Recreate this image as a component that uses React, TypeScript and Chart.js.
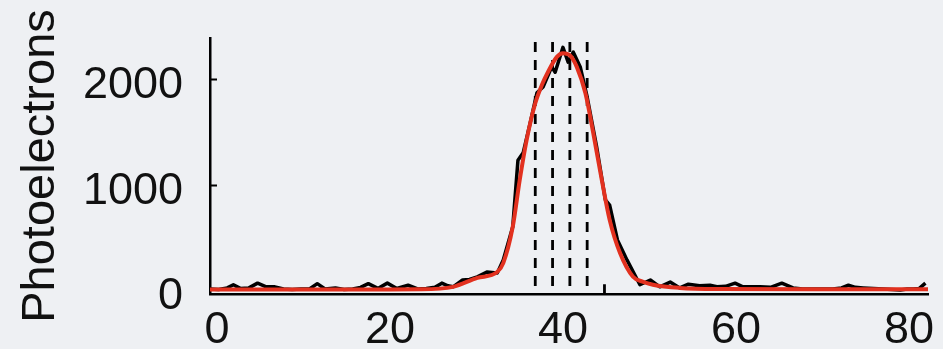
import React, { useEffect, useRef } from "react";
import { Chart, registerables } from "chart.js";

Chart.register(...registerables);

// Measured trace: position vs photoelectron count
const traceX = [
  0, 1, 2, 2.7, 3.5, 4.5, 5.5, 6.5, 7.5, 8.5, 9.5, 10.5, 11.5, 12.4, 13.3, 14.5, 15.5, 16.5,
  17.4, 18.3, 19.4, 20.5, 21.6, 22.9, 24, 25, 26, 26.8, 27.5, 28.1, 29.2, 30, 30.9, 32, 33.2,
  33.9, 35, 35.6, 36.2, 37, 37.8, 38.5, 39.5, 39.9, 40.8, 41.4, 42, 42.8, 43.6, 44.7, 45.7,
  46.2, 47.1, 48.2, 49.7, 50.9, 52, 53.2, 54.3, 55.3, 56.6, 57.8, 58.6, 59.6, 60.7, 61.6,
  62.6, 63.6, 64.8, 66.1, 67.4, 68.5, 70, 72, 73, 73.8, 74.6, 75.5, 76.7, 77.8, 78.8, 79.8,
  80.6, 81.3, 82, 82.7,
];
const traceCounts = [
  10, 5, 20, 50, 15, 20, 65, 30, 30, 10, 5, 10, 10, 60, 10, 20, 5, 10,
  25, 60, 15, 65, 15, 45, 10, 15, 25, 65, 40, 30, 95, 100, 125, 170, 160,
  285, 600, 1230, 1300, 1580, 1870, 1925, 2115, 2065, 2300, 2160, 2255, 2115, 1830, 1355, 855,
  805, 475, 285, 50, 95, 30, 75, 20, 55, 40, 45, 30, 35, 65, 30,
  30, 30, 25, 65, 20, 10, 10, 10, 20, 45, 25, 20, 15, 10, 5, 0,
  10, 10, 15, 65,
];

// Fitted profile
const fitX = [
  0, 10, 20, 24.3, 28.1, 30.9, 33.2, 33.9, 35, 35.8, 36.6, 37.6, 38.4, 39, 40.1, 40.8, 41.6,
  42.4, 43.4, 44.3, 45.3, 46.2, 47.4, 48.9, 50, 51.2, 54.3, 59, 70, 83,
];
const fitCounts = [
  5, 5, 5, 6, 30, 115, 170, 255, 600, 1040, 1420, 1770, 1950, 2055, 2210, 2245, 2225,
  2115, 1865, 1490, 1040, 665, 350, 125, 80, 50, 20, 10, 8, 8,
];

// Vertical dashed markers and the short marker stub
const markerX = [37.6, 39.6, 41.6, 43.6];
const markerTop = 2350;
const stubX = 45.6;
const stubTop = 55;

const xTicks = [0, 20, 40, 60, 80];
const yTicks = [0, 1000, 2000];
const yTitle = "Photoelectrons";

const FONT = "'Liberation Sans', Arial, Helvetica, sans-serif";
const BG = "#eef0f3";

const inwardTicks = {
  id: "inwardTicks",
  afterDraw(chart: any) {
    const { ctx, chartArea, scales } = chart;
    const y = scales.y;
    ctx.save();
    ctx.strokeStyle = "#000";
    ctx.lineWidth = 2;
    for (const v of yTicks) {
      if (v === 0) continue;
      const py = Math.round(y.getPixelForValue(v)) + 0.5;
      ctx.beginPath();
      ctx.moveTo(chartArea.left, py);
      ctx.lineTo(chartArea.left + 7, py);
      ctx.stroke();
    }
    ctx.restore();
  },
};

export default function App() {
  const ref = useRef<HTMLCanvasElement | null>(null);

  useEffect(() => {
    document.body.style.margin = "0";
    document.body.style.background = BG;
    const canvas = ref.current;
    if (!canvas) return;

    const markerSets = markerX.map((mx) => ({
      data: [
        { x: mx, y: markerTop },
        { x: mx, y: -40 },
      ],
      borderColor: "#000",
      borderWidth: 2.8,
      borderDash: [10, 8],
      pointRadius: 0,
      tension: 0,
    }));

    const chart = new Chart(canvas, {
      type: "line",
      data: {
        datasets: [
          {
            data: fitX.map((x, i) => ({ x, y: fitCounts[i] })),
            borderColor: "#e2311f",
            borderWidth: 4,
            pointRadius: 0,
            cubicInterpolationMode: "monotone",
          },
          {
            data: traceX.map((x, i) => ({ x, y: traceCounts[i] })),
            borderColor: "#000",
            borderWidth: 3.5,
            borderJoinStyle: "round",
            pointRadius: 0,
            tension: 0,
          },
          ...markerSets,
          {
            data: [
              { x: stubX, y: stubTop },
              { x: stubX, y: -40 },
            ],
            borderColor: "#000",
            borderWidth: 2.8,
            pointRadius: 0,
          },
        ],
      } as any,
      options: {
        animation: false,
        responsive: false,
        maintainAspectRatio: false,
        layout: { padding: { left: 0, right: 15, top: 38, bottom: 0 } },
        plugins: { legend: { display: false }, tooltip: { enabled: false } },
        scales: {
          x: {
            type: "linear",
            min: 0,
            max: 83,
            afterBuildTicks: (s: any) => {
              s.ticks = xTicks.map((v) => ({ value: v }));
            },
            afterFit: (s: any) => {
              s.height = 55;
              s.paddingLeft = 0;
              s.paddingRight = 0;
            },
            grid: { display: false, drawTicks: false },
            border: { display: true, color: "#000", width: 2.5 },
            ticks: {
              color: "#111",
              font: { family: FONT, size: 45 },
              padding: 10,
              labelOffset: 7,
              maxRotation: 0,
              autoSkip: false,
              callback: (v: any) => String(v),
            },
          },
          y: {
            type: "linear",
            min: -38,
            max: 2389,
            afterBuildTicks: (s: any) => {
              s.ticks = yTicks.map((v) => ({ value: v }));
            },
            afterFit: (s: any) => {
              s.width = 210;
              s.paddingTop = 0;
              s.paddingBottom = 0;
            },
            grid: { display: false, drawTicks: false },
            border: { display: true, color: "#000", width: 2.5 },
            ticks: {
              color: "#111",
              font: { family: FONT, size: 45 },
              padding: 27,
              labelOffset: 7,
              callback: (v: any) => String(v),
            },
            title: {
              display: true,
              text: yTitle,
              color: "#111",
              font: { family: FONT, size: 47 },
              padding: { top: 13, bottom: 0 },
            },
          },
        },
      },
      plugins: [inwardTicks],
    });

    return () => chart.destroy();
  }, []);

  return (
    <div style={{ width: 943, height: 349, background: BG }}>
      <canvas ref={ref} width={943} height={349} style={{ display: "block" }} />
    </div>
  );
}
